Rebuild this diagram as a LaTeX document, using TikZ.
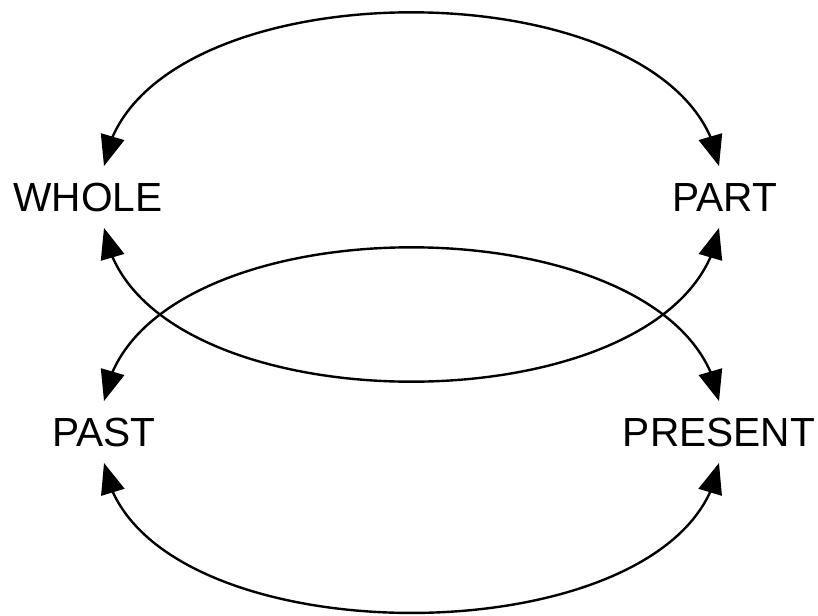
\documentclass[tikz,border=0pt]{standalone}
\usepackage{fontspec}
\setmainfont{Liberation Sans}
\usetikzlibrary{arrows.meta,bending}

\tikzset{
  word/.style={font=\fontsize{30.5}{36}\selectfont, text height=22pt, text depth=0pt,
    inner xsep=0pt, inner ysep=12pt},
  link/.style={line width=1.8pt,
    {Triangle[length=23pt,width=18pt]}-{Triangle[length=23pt,width=18pt]}}
}

\begin{document}
\begin{tikzpicture}[x=0.75pt,y=-0.75pt]
	\useasboundingbox (0,0) rectangle (818,615);
	
	% Upper pair
	\node[word] (whole) at (88,197) {WHOLE};
	\node[word] (part) at (725,197) {PART};
	
	% Lower pair
	\node[word] (past) at (104,432) {PAST};
	\node[word] (present) at (719,432) {PRESENT};
	
	% Arc over whole and part
	\draw[link] (whole.north -| past.north) .. controls +(32,-205) and +(-32,-205) .. (part.north -| present.north);
	
	% Arc under whole and part
	\draw[link] (whole.south -| past.south) .. controls +(32,205) and +(-32,205) .. (part.south -| present.south);
	
	% Arc over past and present
	\draw[link] (past.north) .. controls +(32,-205) and +(-32,-205) .. (present.north);
	
	% Arc under past and present
	\draw[link] (past.south) .. controls +(32,200) and +(-32,200) .. (present.south);
\end{tikzpicture}
\end{document}
